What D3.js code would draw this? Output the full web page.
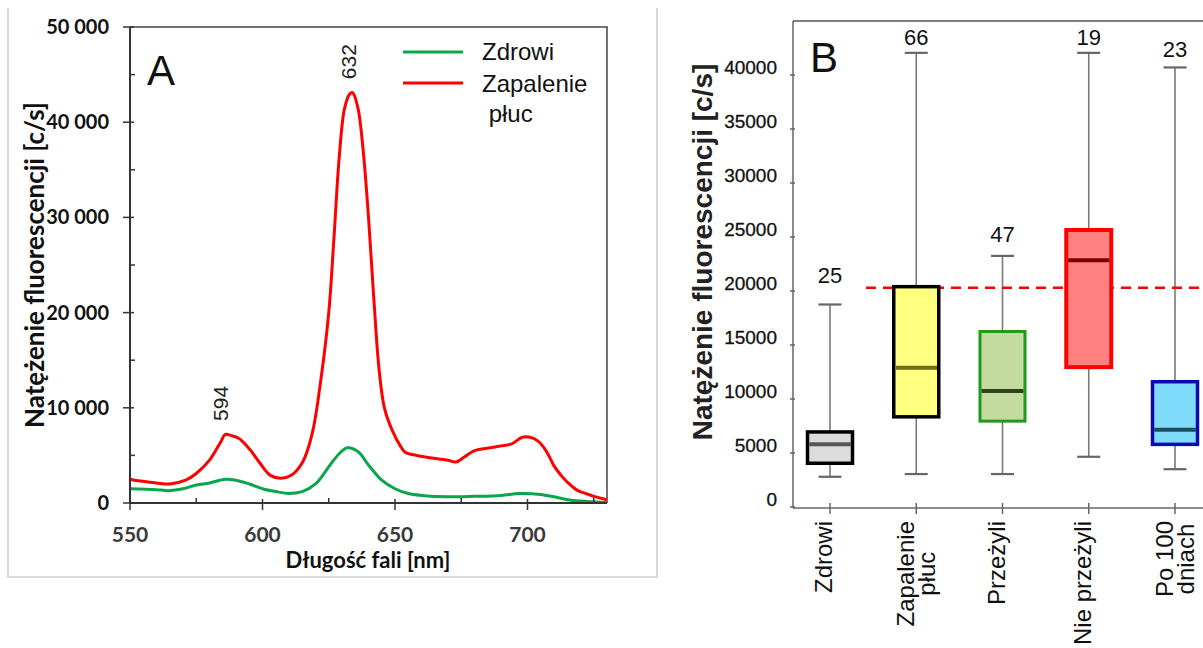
<!DOCTYPE html>
<html>
<head>
<meta charset="utf-8">
<script src="https://cdn.jsdelivr.net/npm/d3@7/dist/d3.min.js"></script>
<style>
  body { margin: 0; background: #fff; }
  svg { display: block; }
</style>
</head>
<body>
<svg id="chart" width="1203" height="648"></svg>
<script>
// ---- panel A: emission spectra ----
const redNm = [550, 554, 560, 565, 571, 575, 580, 584, 586, 588, 591, 595, 599, 603, 607, 611, 614, 616, 619, 622, 625, 627, 629, 631, 633, 634, 636, 638, 640, 642, 644, 646, 649, 652, 654, 658, 662, 666, 670, 673, 676, 680, 686, 690, 694, 698, 701, 704, 706, 708, 710, 713, 715, 719, 722, 725, 730];
const redVal = [2500, 2300, 2100, 2000, 2400, 3100, 4500, 6300, 7200, 7100, 6800, 5700, 4200, 2900, 2600, 2950, 3800, 4800, 7600, 12900, 20000, 28000, 36500, 41500, 43000, 43100, 41500, 37000, 30000, 21500, 14000, 10000, 7600, 6000, 5300, 5000, 4800, 4650, 4500, 4300, 4800, 5500, 5800, 6000, 6200, 6900, 6900, 6500, 5900, 5000, 3900, 2800, 2200, 1300, 1000, 700, 350];
const greenNm = [550, 556, 560, 565, 570, 575, 580, 586, 590, 595, 600, 605, 610, 615, 620, 625, 629, 632, 636, 640, 645, 650, 655, 660, 670, 680, 690, 697, 705, 710, 715, 720, 730];
const greenVal = [1500, 1450, 1400, 1300, 1500, 1900, 2100, 2500, 2400, 2000, 1500, 1200, 1000, 1200, 2000, 3800, 5200, 5800, 5400, 4000, 2400, 1500, 1000, 800, 650, 700, 800, 1000, 900, 650, 350, 200, 50];
const nmTicks = [550, 600, 650, 700];
const nmMinorTicks = [575, 625, 675, 725];
const intensityTicks = [0, 10000, 20000, 30000, 40000, 50000];
const intensityMinorTicks = [5000, 15000, 25000, 35000, 45000];
const peakLabels = ["594", "632"];
const peakWindows = [[575, 600], [620, 645]];
const seriesNames = ["Zdrowi", "Zapalenie", " płuc"];

// ---- panel B: box plots ----
const categories = ["Zdrowi", "Zapalenie płuc", "Przeżyli", "Nie przeżyli", "Po 100 dniach"];
const categoryLines = [["Zdrowi"], ["Zapalenie", "płuc"], ["Przeżyli"], ["Nie przeżyli"], ["Po 100", "dniach"]];
const whiskerLow = [2800, 3050, 3050, 4650, 3500];
const q1 = [4050, 8350, 7950, 12950, 5800];
const median = [5800, 12900, 10750, 22850, 7150];
const q3 = [6950, 20400, 16250, 25650, 11600];
const whiskerHigh = [18750, 42050, 23250, 42050, 40700];
const counts = ["25", "66", "47", "19", "23"];
const boxTicks = [0, 5000, 10000, 15000, 20000, 25000, 30000, 35000, 40000];
const cutoff = 20300;

const boxStyle = [
  { fill: "#dcdcdc", stroke: "#000", med: "#555555", sw: 3.5 },
  { fill: "#ffff80", stroke: "#000", med: "#6e6e12", sw: 3.5 },
  { fill: "#c3dc9e", stroke: "#1f9a1f", med: "#2c4418", sw: 3 },
  { fill: "#ff8080", stroke: "#ff0000", med: "#7a0000", sw: 4 },
  { fill: "#80dafa", stroke: "#0a0ab4", med: "#1b4e5c", sw: 3.5 }
];
const countDy = [-22, -8, -14, -8, -10];

const svg = d3.select("#chart");
const calibri = "Lato, 'Open Sans', sans-serif";
const arial = "'Liberation Sans', Arial, sans-serif";

// ================= Panel A =================
const xA = d3.scaleLinear().domain([550, 730]).range([130, 607]);
const yA = d3.scaleLinear().domain([0, 50000]).range([503, 27]);

// light outer frame (left, bottom, right)
svg.append("path")
  .attr("d", "M8,8 V577 H657 V8")
  .attr("fill", "none").attr("stroke", "#d9d9d9").attr("stroke-width", 2);

const gA = svg.append("g");

// plot frame top/right
gA.append("path")
  .attr("d", `M${xA(550)},${yA(50000)} H${xA(730)} V${yA(0)}`)
  .attr("fill", "none").attr("stroke", "#444").attr("stroke-width", 1.5);

// curves
const lineA = d3.line().x(d => xA(d[0])).y(d => yA(d[1])).curve(d3.curveCatmullRom.alpha(0.5));
gA.append("path").datum(greenNm.map((n, i) => [n, greenVal[i]]))
  .attr("d", lineA).attr("fill", "none").attr("stroke", "#0aa64c").attr("stroke-width", 3);
gA.append("path").datum(redNm.map((n, i) => [n, redVal[i]]))
  .attr("d", lineA).attr("fill", "none").attr("stroke", "#ff0000").attr("stroke-width", 3);

// axes
gA.append("line").attr("x1", xA(550)).attr("x2", xA(550)).attr("y1", yA(50000)).attr("y2", yA(0) + 1)
  .attr("stroke", "#333").attr("stroke-width", 2);
gA.append("line").attr("x1", xA(550) - 1).attr("x2", xA(730)).attr("y1", yA(0)).attr("y2", yA(0))
  .attr("stroke", "#333").attr("stroke-width", 2);

gA.selectAll(".ymaj").data(intensityTicks).join("line")
  .attr("x1", xA(550) - 7).attr("x2", xA(550) + 4)
  .attr("y1", d => yA(d)).attr("y2", d => yA(d))
  .attr("stroke", "#333").attr("stroke-width", 1.5);
gA.selectAll(".ymin").data(intensityMinorTicks).join("line")
  .attr("x1", xA(550)).attr("x2", xA(550) + 5)
  .attr("y1", d => yA(d)).attr("y2", d => yA(d))
  .attr("stroke", "#333").attr("stroke-width", 1.5);
gA.selectAll(".xmaj").data(nmTicks).join("line")
  .attr("x1", d => xA(d)).attr("x2", d => xA(d))
  .attr("y1", yA(0) - 4).attr("y2", yA(0) + 7)
  .attr("stroke", "#333").attr("stroke-width", 1.5);
gA.selectAll(".xmin").data(nmMinorTicks).join("line")
  .attr("x1", d => xA(d)).attr("x2", d => xA(d))
  .attr("y1", yA(0) - 5).attr("y2", yA(0))
  .attr("stroke", "#333").attr("stroke-width", 1.5);

const fmtSpace = d => d3.format(",")(d).replace(/,/g, " ");
gA.selectAll(".ylab").data(intensityTicks).join("text")
  .attr("x", 109).attr("y", d => yA(d)).attr("dy", "0.35em")
  .attr("text-anchor", "end")
  .style("font-family", calibri).style("font-weight", "bold").style("font-size", "20px").attr("fill", "#111")
  .text(fmtSpace);
gA.selectAll(".xlab").data(nmTicks).join("text")
  .attr("x", d => xA(d)).attr("y", 535).attr("dy", "0.35em")
  .attr("text-anchor", "middle")
  .style("font-family", calibri).style("font-weight", "bold").style("font-size", "21px").attr("fill", "#3a3a3a")
  .text(d => d);

gA.append("text").attr("x", 368).attr("y", 568).attr("text-anchor", "middle")
  .style("font-family", calibri).style("font-weight", "bold").style("font-size", "22px").attr("fill", "#111")
  .text("Długość fali [nm]");
gA.append("text").attr("transform", "translate(44,265) rotate(-90)").attr("text-anchor", "middle")
  .style("font-family", calibri).style("font-weight", "bold").style("font-size", "26px").attr("fill", "#111")
  .text("Natężenie fluorescencji [c/s]");

gA.append("text").attr("x", 147).attr("y", 85)
  .style("font-family", arial).style("font-size", "42px").attr("fill", "#111").text("A");

// peak labels above the local maxima of the red curve
peakLabels.forEach((lab, k) => {
  const [lo, hi] = peakWindows[k];
  const idx = d3.range(redNm.length).filter(i => redNm[i] >= lo && redNm[i] <= hi);
  const best = idx.reduce((a, b) => (redVal[b] > redVal[a] ? b : a));
  const px = xA(redNm[best]), py = yA(redVal[best]) - 31;
  gA.append("text").attr("transform", `translate(${px + 3},${py}) rotate(-90)`)
    .attr("text-anchor", "middle")
    .style("font-family", arial).style("font-size", "21px").attr("fill", "#222")
    .text(lab);
});

// legend
const legA = gA.append("g");
legA.append("line").attr("x1", 403).attr("x2", 463).attr("y1", 52).attr("y2", 52)
  .attr("stroke", "#0aa64c").attr("stroke-width", 3);
legA.append("line").attr("x1", 403).attr("x2", 463).attr("y1", 83).attr("y2", 83)
  .attr("stroke", "#ff0000").attr("stroke-width", 3);
legA.selectAll("text").data(seriesNames).join("text")
  .attr("x", 482).attr("y", (d, i) => [60, 92, 122][i])
  .attr("xml:space", "preserve")
  .style("font-family", arial).style("font-size", "24px").attr("fill", "#111")
  .text(d => d);

// ================= Panel B =================
const xB = d3.scalePoint().domain(categories).range([830, 1175]);
const yB = d3.scaleLinear().domain([0, 45000]).range([507, 21]);
const gB = svg.append("g");
const axL = 793, axB = 508;

gB.append("line").attr("x1", axL).attr("x2", axL).attr("y1", yB(45000)).attr("y2", axB)
  .attr("stroke", "#666").attr("stroke-width", 1.5);
gB.append("line").attr("x1", axL).attr("x2", 1203).attr("y1", yB(45000)).attr("y2", yB(45000))
  .attr("stroke", "#555").attr("stroke-width", 1.5);
gB.append("line").attr("x1", axL).attr("x2", 1203).attr("y1", axB).attr("y2", axB)
  .attr("stroke", "#666").attr("stroke-width", 1.5);

gB.selectAll(".yt").data(boxTicks).join("line")
  .attr("x1", axL - 3).attr("x2", axL + 2)
  .attr("y1", d => yB(d)).attr("y2", d => yB(d))
  .attr("stroke", "#666").attr("stroke-width", 1.5);
gB.selectAll(".ytl").data(boxTicks).join("text")
  .attr("x", 777).attr("y", d => yB(d) - 8).attr("dy", "0.35em")
  .attr("text-anchor", "end")
  .style("font-family", arial).style("font-size", "19px").attr("fill", "#111")
  .attr("stroke", "#111").attr("stroke-width", 0.3)
  .text(d => d);
gB.selectAll(".xt").data(categories).join("line")
  .attr("x1", d => xB(d)).attr("x2", d => xB(d))
  .attr("y1", axB - 5).attr("y2", axB + 6)
  .attr("stroke", "#666").attr("stroke-width", 1.5);

gB.append("text").attr("transform", "translate(712,252) rotate(-90)").attr("text-anchor", "middle")
  .style("font-family", arial).style("font-weight", "bold").style("font-size", "28px").attr("fill", "#222")
  .text("Natężenie fluorescencji [c/s]");

gB.append("text").attr("x", 810).attr("y", 72)
  .style("font-family", arial).style("font-size", "42px").attr("fill", "#111").text("B");

// whiskers
const capW = 23, boxW = 45;
categories.forEach((c, i) => {
  const cx = xB(c);
  gB.append("line").attr("x1", cx).attr("x2", cx).attr("y1", yB(whiskerLow[i])).attr("y2", yB(whiskerHigh[i]))
    .attr("stroke", "#7a7a7a").attr("stroke-width", 1.6);
  [whiskerLow[i], whiskerHigh[i]].forEach(v => {
    gB.append("line").attr("x1", cx - capW / 2).attr("x2", cx + capW / 2).attr("y1", yB(v)).attr("y2", yB(v))
      .attr("stroke", "#666").attr("stroke-width", 2.2);
  });
});

// cutoff line
gB.append("line").attr("x1", 866).attr("x2", 1203).attr("y1", yB(cutoff)).attr("y2", yB(cutoff))
  .attr("stroke", "#ff0000").attr("stroke-width", 2.5).attr("stroke-dasharray", "10,7");

// boxes
categories.forEach((c, i) => {
  const cx = xB(c), st = boxStyle[i];
  gB.append("rect").attr("x", cx - boxW / 2).attr("width", boxW)
    .attr("y", yB(q3[i])).attr("height", yB(q1[i]) - yB(q3[i]))
    .attr("fill", st.fill).attr("stroke", st.stroke).attr("stroke-width", st.sw);
  gB.append("line").attr("x1", cx - boxW / 2 + st.sw / 2).attr("x2", cx + boxW / 2 - st.sw / 2)
    .attr("y1", yB(median[i])).attr("y2", yB(median[i]))
    .attr("stroke", st.med).attr("stroke-width", 4);
  gB.append("text").attr("x", cx).attr("y", yB(whiskerHigh[i]) + countDy[i])
    .attr("text-anchor", "middle")
    .style("font-family", arial).style("font-size", "22px").attr("fill", "#111")
    .text(counts[i]);
});

// rotated category labels
categories.forEach((c, i) => {
  const lines = categoryLines[i];
  const g = gB.append("g").attr("transform", `translate(${xB(c) + 2},521) rotate(-90)`);
  const texts = lines.map((ln, k) => g.append("text")
    .attr("y", k * 21)
    .style("font-family", arial).style("font-size", "24px").attr("fill", "#111")
    .text(ln));
  const maxW = d3.max(texts, t => t.node().getComputedTextLength());
  texts.forEach(t => t.attr("x", -maxW / 2).attr("text-anchor", "middle"));
  if (lines.length > 1) g.attr("transform", `translate(${xB(c) - 2},521) rotate(-90)`);
});
</script>
</body>
</html>
